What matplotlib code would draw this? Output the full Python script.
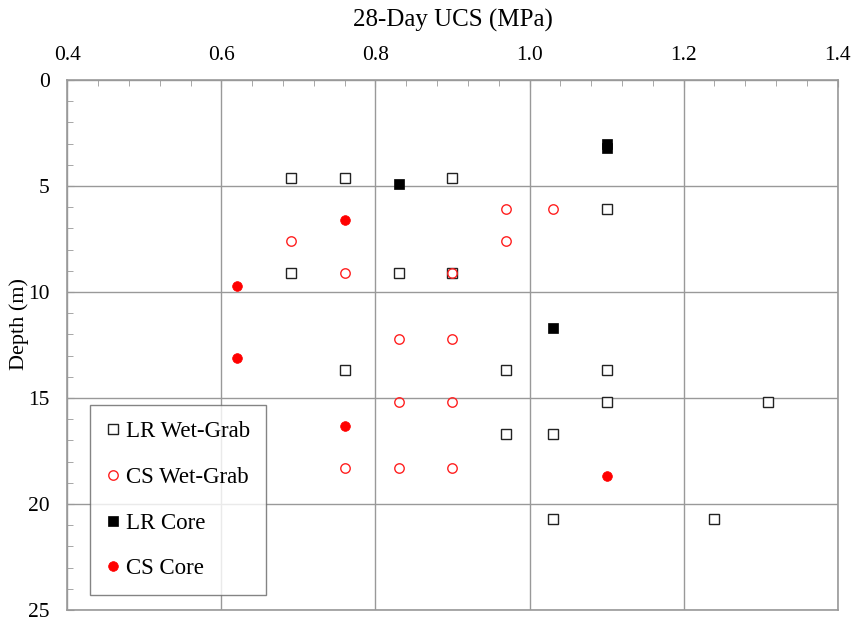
import matplotlib
matplotlib.use("Agg")
import matplotlib.pyplot as plt
from matplotlib.ticker import MultipleLocator, FormatStrFormatter

plt.rcParams['font.family'] = ['Liberation Serif', 'DejaVu Serif']

# 28-day UCS (MPa) and sample depth (m)
lr_wet_ucs = [0.69, 0.76, 0.90, 1.10, 0.69, 0.83, 0.90, 0.76, 0.97, 1.10,
              1.10, 1.31, 0.97, 1.03, 1.03, 1.24]
lr_wet_depth = [4.6, 4.6, 4.6, 6.1, 9.1, 9.1, 9.1, 13.7, 13.7, 13.7,
                15.2, 15.2, 16.7, 16.7, 20.7, 20.7]

cs_wet_ucs = [0.97, 1.03, 0.69, 0.97, 0.76, 0.90, 0.83, 0.90, 0.83, 0.90,
              0.76, 0.83, 0.90]
cs_wet_depth = [6.1, 6.1, 7.6, 7.6, 9.1, 9.1, 12.2, 12.2, 15.2, 15.2,
                18.3, 18.3, 18.3]

lr_core_ucs = [0.83, 1.10, 1.10, 1.03]
lr_core_depth = [4.9, 3.0, 3.2, 11.7]

cs_core_ucs = [0.76, 0.62, 0.62, 0.76, 1.10]
cs_core_depth = [6.6, 9.7, 13.1, 16.3, 18.7]

grey = '#999999'

fig = plt.figure(figsize=(8.57, 6.21), dpi=100)
ax = fig.add_axes([0.0785, 0.0177, 0.899, 0.8535])

ax.plot(lr_wet_ucs, lr_wet_depth, ls='', marker='s', ms=6.5, mfc='white',
        mec='#222222', mew=1.0, label='LR Wet-Grab', zorder=3)
ax.plot(cs_wet_ucs, cs_wet_depth, ls='', marker='o', ms=6.8, mfc='none',
        mec='#ff2020', mew=1.0, label='CS Wet-Grab', zorder=4)
ax.plot(lr_core_ucs, lr_core_depth, ls='', marker='s', ms=6.8, mfc='black',
        mec='black', mew=0.5, label='LR Core', zorder=3)
ax.plot(cs_core_ucs, cs_core_depth, ls='', marker='o', ms=7.0, mfc='red',
        mec='red', mew=0.5, label='CS Core', zorder=3)

ax.set_xlim(0.4, 1.4)
ax.set_ylim(25, 0)
ax.xaxis.set_major_locator(MultipleLocator(0.2))
ax.xaxis.set_minor_locator(MultipleLocator(0.04))
ax.yaxis.set_major_locator(MultipleLocator(5))
ax.yaxis.set_minor_locator(MultipleLocator(1))
ax.xaxis.set_major_formatter(FormatStrFormatter('%.1f'))

ax.xaxis.tick_top()
ax.xaxis.set_label_position('top')
ax.tick_params(which='both', direction='in', colors=grey, labelcolor='black',
               top=True, bottom=False, left=True, right=False)
ax.tick_params(which='major', length=5, labelsize=15.5)
ax.tick_params(which='minor', length=4)
ax.tick_params(axis='x', which='major', pad=11)
ax.tick_params(axis='y', which='major', pad=12.5)

ax.grid(True, which='major', color=grey, lw=1.0)
for s in ax.spines.values():
    s.set_color(grey)
    s.set_linewidth(1.2)

ax.set_xlabel('28-Day UCS (MPa)', fontsize=18, labelpad=14)
ax.set_ylabel('Depth (m)', fontsize=16)
ax.yaxis.set_label_coords(-0.0497, 0.539)

leg = ax.legend(loc='upper left', bbox_to_anchor=(0.0295, 0.3868), fontsize=16.5,
                frameon=True, fancybox=False, edgecolor='#666666',
                labelspacing=1.08, handletextpad=0.28, handlelength=0.6,
                borderpad=0.7, borderaxespad=0, markerscale=1.0)
leg.get_frame().set_linewidth(1.0)

fig.savefig('out.png', dpi=100)
